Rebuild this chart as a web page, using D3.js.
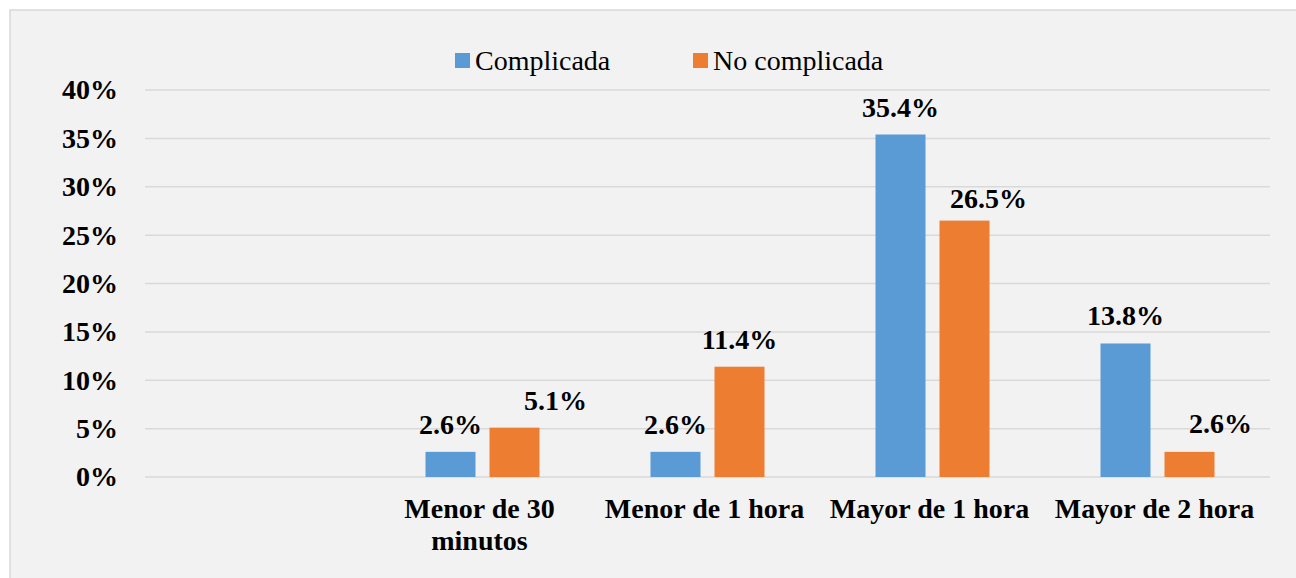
<!DOCTYPE html>
<html>
<head>
<meta charset="utf-8">
<script src="https://cdn.jsdelivr.net/npm/d3@7"></script>
<style>
  html, body { margin: 0; padding: 0; background: #ffffff; }
  svg { display: block; }
  .serif { font-family: "Liberation Serif", "Times New Roman", serif; fill: #000; }
  .bold { font-family: "Liberation Serif", "Times New Roman", serif; font-weight: bold; font-size: 28px; fill: #000; }
</style>
</head>
<body>
<div id="chart"></div>
<script>
// categories (first slot is empty in the original chart)
var categories = ["", "Menor de 30\nminutos", "Menor de 1 hora", "Mayor de 1 hora", "Mayor de 2 hora"];
var seriesNames = ["Complicada", "No complicada"];
var complicada = [null, 2.6, 2.6, 35.4, 13.8];
var noComplicada = [null, 5.1, 11.4, 26.5, 2.6];
var yTicks = [0, 5, 10, 15, 20, 25, 30, 35, 40];

// the orange labels were dragged a bit in the original, keep that look
var orangeLabelShift = [[0, 0], [41, 0], [0, 0], [24, 5], [31, -1]];

var colors = ["#5b9bd5", "#ed7d31"];

var width = 1296, height = 578;
var margin = {top: 90, right: 26, bottom: 101, left: 145};

var svg = d3.select("#chart").append("svg")
    .attr("width", width)
    .attr("height", height);

// chart area background + border
svg.append("rect")
    .attr("x", 10).attr("y", 10)
    .attr("width", width).attr("height", height)
    .attr("fill", "#f2f2f2")
    .attr("stroke", "#d9d9d9")
    .attr("stroke-width", 1.5);

var x0 = d3.scaleBand()
    .domain(d3.range(categories.length))
    .range([margin.left, width - margin.right]);

var x1 = d3.scaleBand()
    .domain([0, 1])
    .range([-57, 57])
    .paddingInner(14 / 64);

var y = d3.scaleLinear()
    .domain([0, 40])
    .range([height - margin.bottom, margin.top]);

// gridlines
svg.append("g")
    .selectAll("line")
    .data(yTicks)
    .join("line")
    .attr("x1", margin.left)
    .attr("x2", width - margin.right)
    .attr("y1", function(d) { return y(d); })
    .attr("y2", function(d) { return y(d); })
    .attr("stroke", "#d9d9d9")
    .attr("stroke-width", 1.5);

// y axis labels
var yAxis = svg.append("g")
    .attr("transform", "translate(" + margin.left + ",0)")
    .call(d3.axisLeft(y).tickValues(yTicks).tickSize(0).tickPadding(27)
        .tickFormat(function(d) { return d + "%"; }));
yAxis.attr("font-family", null).attr("font-size", null);
yAxis.select(".domain").remove();
yAxis.selectAll("text")
    .attr("class", "bold")
    .attr("fill", null)
    .attr("dy", "0.32em");

// bars
var rows = categories.map(function(c, i) { return [complicada[i], noComplicada[i]]; });

var groups = svg.append("g")
    .selectAll("g")
    .data(rows)
    .join("g")
    .attr("transform", function(d, i) { return "translate(" + (x0(i) + x0.bandwidth() / 2) + ",0)"; });

function cells(d, i) {
    return d.map(function(v, s) { return {v: v, s: s, i: i}; }).filter(function(e) { return e.v != null; });
}

groups.selectAll("rect")
    .data(cells)
    .join("rect")
    .attr("x", function(d) { return x1(d.s); })
    .attr("width", x1.bandwidth())
    .attr("y", function(d) { return y(d.v); })
    .attr("height", function(d) { return y(0) - y(d.v); })
    .attr("fill", function(d) { return colors[d.s]; });

// value labels
groups.selectAll("text")
    .data(cells)
    .join("text")
    .attr("class", "bold")
    .attr("x", function(d) {
        var dx = d.s == 1 ? orangeLabelShift[d.i][0] : 0;
        return x1(d.s) + x1.bandwidth() / 2 + dx;
    })
    .attr("y", function(d) {
        var dy = d.s == 1 ? orangeLabelShift[d.i][1] : 0;
        return y(d.v) - 18 + dy;
    })
    .attr("text-anchor", "middle")
    .text(function(d) { return d.v.toFixed(1) + "%"; });

// category labels
var catLabels = svg.append("g")
    .selectAll("text")
    .data(categories)
    .join("text")
    .attr("class", "bold")
    .attr("x", function(d, i) { return x0(i) + x0.bandwidth() / 2 - 3; })
    .attr("y", 518)
    .attr("text-anchor", "middle");

catLabels.selectAll("tspan")
    .data(function(d) { return d.split("\n"); })
    .join("tspan")
    .attr("x", function() { return d3.select(this.parentNode).attr("x"); })
    .attr("dy", function(d, i) { return i == 0 ? 0 : 32; })
    .text(function(d) { return d; });

// legend
var legendX = [455, 693];
var legend = svg.append("g")
    .selectAll("g")
    .data(seriesNames)
    .join("g")
    .attr("transform", function(d, i) { return "translate(" + legendX[i] + ",0)"; });

legend.append("rect")
    .attr("x", 0).attr("y", 53)
    .attr("width", 15).attr("height", 15)
    .attr("fill", function(d, i) { return colors[i]; });

legend.append("text")
    .attr("class", "serif")
    .attr("x", 20).attr("y", 70)
    .attr("font-size", "28px")
    .text(function(d) { return d; });
</script>
</body>
</html>
